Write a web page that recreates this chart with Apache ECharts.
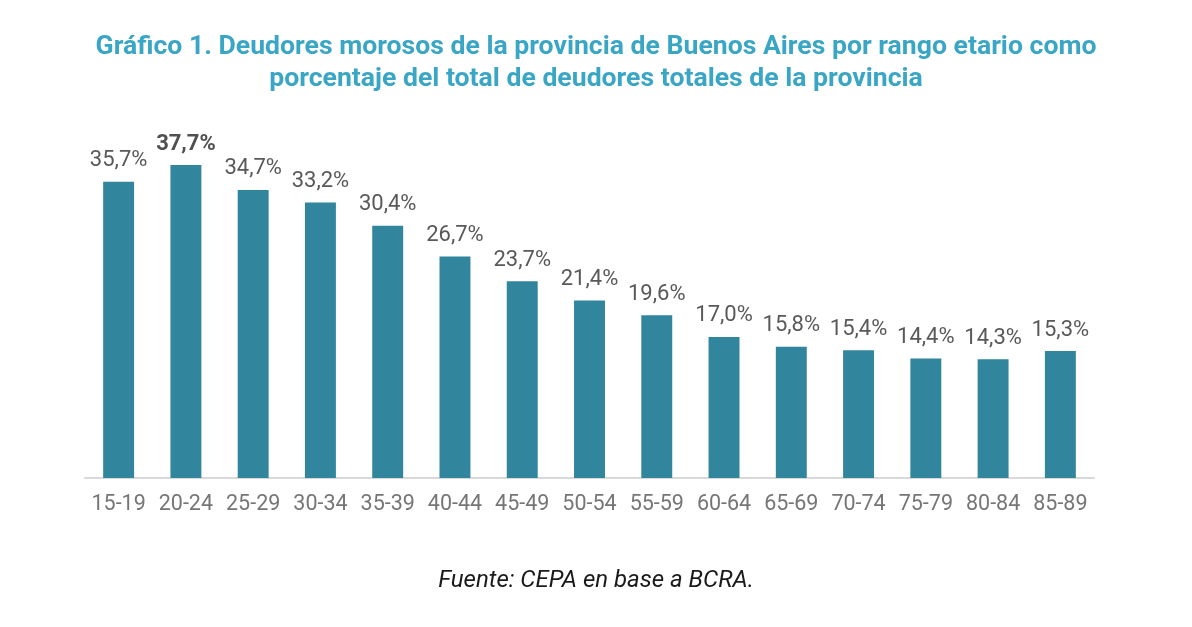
<!DOCTYPE html>
<html>
  <head>
    <meta charset="utf-8">
    <title>Deudores morosos por rango etario</title>
    <style>
      html, body { margin: 0; padding: 0; background: #fff; }
    </style>
  </head>
  <body>
    <div id="main" style="width: 1192px;height:627px;"></div>

  <script src="https://cdn.jsdelivr.net/npm/echarts@6/dist/echarts.min.js" charset="utf-8"></script>
  <script type="text/javascript">
  var categories = ['15-19', '20-24', '25-29', '30-34', '35-39', '40-44', '45-49', '50-54',
    '55-59', '60-64', '65-69', '70-74', '75-79', '80-84', '85-89'];
  var values = [35.7, 37.7, 34.7, 33.2, 30.4, 26.7, 23.7, 21.4, 19.6, 17.0, 15.8, 15.4, 14.4, 14.3, 15.3];
  var highlightIndex = 1; // 20-24 lleva la etiqueta en negrita

  var myChart = echarts.init(document.getElementById('main'));

  var option = {
    backgroundColor: '#ffffff',
    animation: false,
    textStyle: { fontFamily: 'Roboto' },
    title: [{
        text: 'Gráfico 1. Deudores morosos de la provincia de Buenos Aires por rango etario como\nporcentaje del total de deudores totales de la provincia',
        left: 'center',
        top: 26,
        textStyle: {
            color: '#3aa6c5',
            fontSize: 26.6,
            fontWeight: 'bold',
            fontFamily: 'Roboto',
            lineHeight: 32,
            align: 'center'
        }
    }, {
        text: 'Fuente: CEPA en base a BCRA.',
        left: 'center',
        top: 564,
        textStyle: {
            color: '#1a1a1a',
            fontSize: 24,
            fontWeight: 'normal',
            fontStyle: 'italic',
            fontFamily: 'Roboto'
        }
    }],
    grid: {
        left: 85,
        right: 98,
        top: 146,
        bottom: 149
    },
    xAxis: {
        type: 'category',
        data: categories,
        axisLine: { lineStyle: { color: '#d9d9d9', width: 2 } },
        axisTick: { show: false },
        axisLabel: {
            interval: 0,
            color: '#767676',
            fontSize: 21.5,
            margin: 16,
            fontFamily: 'Roboto'
        }
    },
    yAxis: {
        type: 'value',
        min: 0,
        max: 40,
        show: false,
        splitLine: { show: false }
    },
    series: [{
        type: 'bar',
        barWidth: '46%',
        itemStyle: { color: '#31859c' },
        label: {
            show: true,
            position: 'top',
            distance: 10,
            color: '#595959',
            fontSize: 22,
            fontFamily: 'Roboto',
            formatter: function (p) {
                return p.value.toFixed(1).replace('.', ',') + '%';
            }
        },
        data: values.map(function (v, i) {
            if (i === highlightIndex) {
                return { value: v, label: { fontWeight: 'bold', color: '#505050' } };
            }
            return v;
        })
    }]
  };
  myChart.setOption(option);
  </script>
  </body>
</html>
